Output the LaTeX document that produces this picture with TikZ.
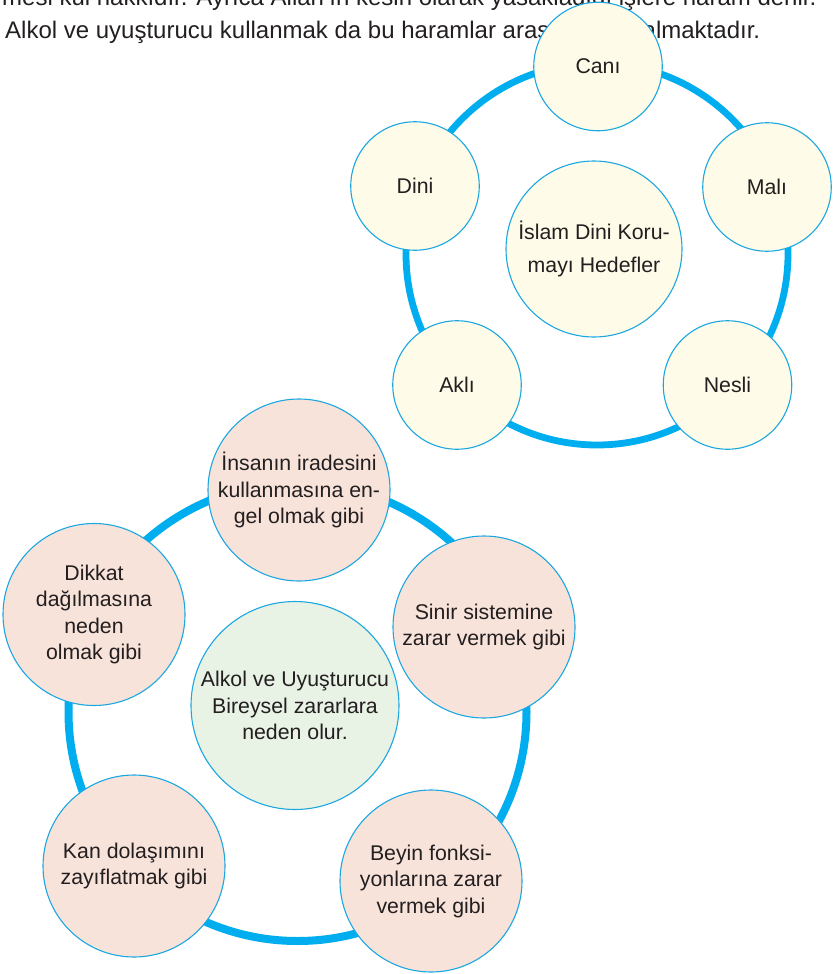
\documentclass[tikz,border=0pt]{standalone}
\usepackage{fontspec}
\setmainfont{Liberation Sans}
\definecolor{ringblue}{HTML}{00AEEF}
\definecolor{edgeblue}{HTML}{1BA7E1}
\definecolor{creamfill}{HTML}{FEFBE8}
\definecolor{pinkfill}{HTML}{F8E3DA}
\definecolor{greenfill}{HTML}{E8F2E5}
\definecolor{inkgray}{HTML}{231F20}
\tikzset{
  bubble/.style={circle, draw=edgeblue, line width=1.1pt, inner sep=0pt, align=center,
    text=inkgray, font=\fontsize{21.3}{26.5}\selectfont},
  smalltop/.style={bubble, fill=creamfill, minimum size=128.5pt},
  bigtop/.style={bubble, fill=creamfill, minimum size=176pt, font=\fontsize{21.3}{33}\selectfont},
  smallbot/.style={bubble, fill=pinkfill, minimum size=182pt},
  bigbot/.style={bubble, fill=greenfill, minimum size=208pt},
  ringline/.style={draw=ringblue, line width=6.8pt},
  bodytext/.style={inner sep=0pt, anchor=base west, text=inkgray, font=\fontsize{24}{32}\selectfont}
}
\begin{document}
\begin{tikzpicture}[x=1pt, y=-1pt]
\useasboundingbox (0,0) rectangle (834,974);
% body text
\node[bodytext] (line1) at (2,6) {mesi kul hakkıdır. Ayrıca Allah’ın kesin olarak yasakladığı işlere haram denir.};
\node[bodytext] (line2) at (5,38) {Alkol ve uyuşturucu kullanmak da bu haramlar arasında yer almaktadır.};
% top diagram
\coordinate (topc) at (597,254);
\draw[ringline] (topc) circle[radius=191pt];
\node[bigtop] (islam) at (594,249) {İslam Dini Koru-\\mayı Hedefler};
\node[smalltop] (cani) at (598,66.5) {Canı};
\node[smalltop] (dini) at (415,186) {Dini};
\node[smalltop] (mali) at (767,187) {Malı};
\node[smalltop] (akli) at (457,385) {Aklı};
\node[smalltop] (nesli) at (727.5,385) {Nesli};
% bottom diagram
\coordinate (botc) at (297.5,712);
\draw[ringline, line width=8pt] (botc) circle[radius=229pt];
\node[bigbot] (alkol) at (295,705.5) {Alkol ve Uyuşturucu\\Bireysel zararlara\\neden olur.};
\node[smallbot] (insan) at (299,490) {İnsanın iradesini\\kullanmasına en-\\gel olmak gibi};
\node[smallbot] (dikkat) at (94,614.5) {Dikkat\\dağılmasına\\neden\\olmak gibi};
\node[smallbot] (sinir) at (484,627) {Sinir sistemine\\zarar vermek gibi};
\node[smallbot] (kan) at (134,866) {Kan dolaşımını\\zayıflatmak gibi};
\node[smallbot] (beyin) at (431,881) {Beyin fonksi-\\yonlarına zarar\\vermek gibi};
\end{tikzpicture}
\end{document}
